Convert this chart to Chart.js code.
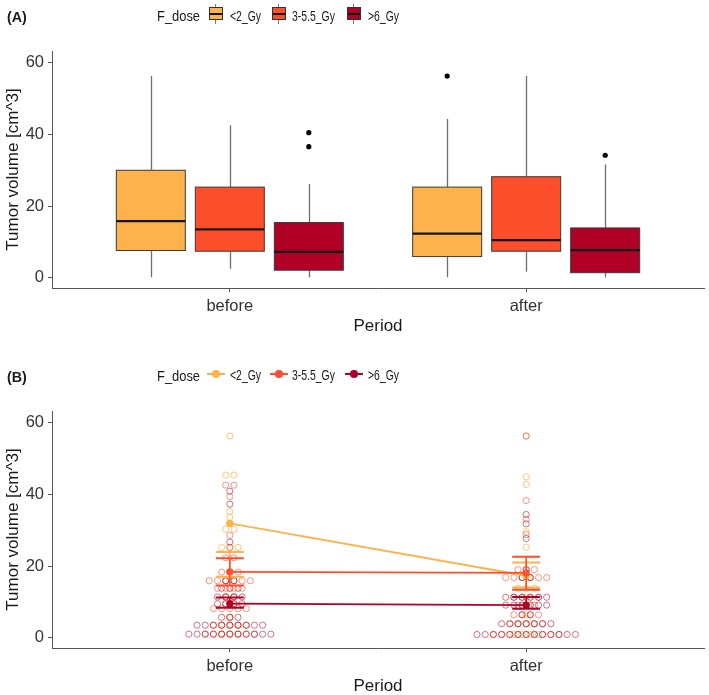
<!DOCTYPE html>
<html><head><meta charset="utf-8">
<script src="https://cdn.jsdelivr.net/npm/chart.js@4.4.1/dist/chart.umd.min.js"></script>
<style>
html,body{margin:0;padding:0;background:#fff;width:709px;height:695px;overflow:hidden;font-family:"Liberation Sans",Arial,sans-serif;}
#wrap{position:relative;width:709px;height:695px;overflow:hidden;}
canvas{position:absolute;left:0;}
.t{position:absolute;white-space:nowrap;color:#1a1a1a;line-height:1;}
.panel{font-weight:bold;font-size:15.5px;transform:scaleX(0.92);transform-origin:0 50%;}
.ltitle{font-size:15px;transform:scaleX(0.86);transform-origin:0 50%;}
.llab{font-size:14.5px;transform:scaleX(0.72);transform-origin:0 50%;}
.k{position:absolute;box-sizing:border-box;}
</style></head>
<body><div id="wrap">
<canvas id="cA" width="709" height="337" style="top:0"></canvas>
<canvas id="cB" width="709" height="337" style="top:360px"></canvas>
</div>
<script>
// ---------- data ----------
const periods = ['before', 'after'];
const doseGroups = ['<2_Gy', '3-5.5_Gy', '>6_Gy'];
const doseColors = ['#FEB24C', '#FC4E2A', '#B10026'];
const dotColors = ['rgba(254,178,76,0.75)', 'rgba(252,78,42,0.6)', 'rgba(177,0,38,0.55)'];
const yTicks = [0, 20, 40, 60];

// Panel A: box statistics per dose group
const wLoBefore  = [0.1, 2.5, 0.1];
const q1Before   = [7.6, 7.4, 2.1];
const medBefore  = [15.8, 13.5, 7.2];
const q3Before   = [30.0, 25.3, 15.4];
const wHiBefore  = [56.3, 42.6, 26.2];
const wLoAfter   = [0.1, 1.7, 0.1];
const q1After    = [5.9, 7.4, 1.4];
const medAfter   = [12.3, 10.5, 7.7];
const q3After    = [25.3, 28.2, 13.9];
const wHiAfter   = [44.3, 56.3, 31.6];
const outBefore  = [[], [], [40.5, 36.6]];
const outAfter   = [[56.3], [], [34.2]];

// Panel B: dot rows (value) and number of dots per dose group
const rowBefore   = [56.3, 45.4, 42.6, 40.9, 39.4, 37.3, 35.3, 33.6, 31.9, 30.3, 28.6, 26.7, 25.2, 22.3, 18.3, 15.9, 13.8, 11.4, 9.5, 8.1, 5.7, 3.5, 1.0];
const cntBeforeLo = [1, 2, 0, 0, 0, 0, 1, 1, 1, 2, 0, 0, 3, 0, 0, 2, 1, 2, 1, 0, 1, 3, 3];
const cntBeforeMd = [0, 0, 2, 0, 1, 0, 0, 0, 0, 0, 1, 0, 1, 2, 3, 6, 4, 2, 2, 5, 1, 5, 7];
const cntBeforeHi = [0, 0, 0, 1, 0, 1, 0, 0, 0, 0, 0, 1, 0, 0, 0, 2, 3, 4, 4, 0, 3, 9, 11];
const rowAfter    = [56.3, 44.9, 42.8, 38.3, 34.4, 33.1, 31.8, 29.6, 28.8, 27.7, 25.3, 19.0, 16.8, 13.8, 11.3, 9.1, 6.4, 3.9, 0.9];
const cntAfterLo  = [1, 1, 1, 0, 0, 0, 0, 1, 0, 0, 1, 0, 2, 3, 1, 2, 1, 3, 4];
const cntAfterMd  = [1, 0, 0, 1, 0, 1, 0, 0, 1, 0, 0, 3, 6, 0, 4, 3, 4, 5, 9];
const cntAfterHi  = [0, 0, 0, 0, 1, 0, 1, 0, 0, 1, 0, 1, 2, 0, 6, 6, 2, 7, 13];

// Panel B: mean points and error bars
const meanBefore = [31.9, 18.4, 9.5];
const meanAfter  = [17.3, 18.1, 9.1];
const errLoBefore = [17.0, 14.6, 8.4];
const errHiBefore = [23.9, 22.2, 11.2];
const errLoAfter  = [14.0, 13.4, 8.1];
const errHiAfter  = [21.0, 22.6, 11.4];

// ---------- layout constants ----------
const FAM = '"Liberation Sans", Arial, sans-serif';
const X_MIN = 0.4, X_MAX = 2.6;
const PX_PER_X = (704 - 52) / (X_MAX - X_MIN);
const DODGE = 79 / PX_PER_X, HALF = 34.5 / PX_PER_X;
const DOT_STEP = 8.2 / PX_PER_X;

function baseOptions() {
  return {
    responsive: false, animation: false, devicePixelRatio: 1,
    layout: { padding: { top: 51, right: 5, bottom: 0, left: 0 } },
    plugins: { legend: { display: false }, tooltip: { enabled: false } },
    scales: {
      x: {
        type: 'linear', min: X_MIN, max: X_MAX,
        afterBuildTicks: s => { s.ticks = periods.map((p, i) => ({ value: i + 1 })); },
        afterFit: s => { s.height = 49; },
        ticks: { callback: v => periods[Math.round(v) - 1] ?? '', color: '#333', font: { family: FAM, size: 16.5 }, padding: 5, autoSkip: false, maxRotation: 0 },
        grid: { display: true, drawOnChartArea: false, drawTicks: true, tickLength: 4, color: '#555', lineWidth: 1 },
        border: { display: true, color: '#555', width: 1 },
        title: { display: true, text: 'Period', color: '#1a1a1a', font: { family: FAM, size: 17 }, padding: { top: 0, bottom: 0 } }
      },
      y: {
        type: 'linear', min: -2.87, max: 63.3,
        afterBuildTicks: s => { s.ticks = yTicks.map(v => ({ value: v })); },
        afterFit: s => { s.width = 52; },
        ticks: { color: '#333', font: { family: FAM, size: 16.5 }, padding: 4 },
        grid: { display: true, drawOnChartArea: false, drawTicks: true, tickLength: 4, color: '#555', lineWidth: 1 },
        border: { display: true, color: '#555', width: 1 },
        title: { display: true, text: 'Tumor volume [cm^3]', color: '#1a1a1a', font: { family: FAM, size: 17 }, padding: { top: 3.5, bottom: 0 } }
      }
    }
  };
}

// ---------- Panel A ----------
const boxStats = [
  [wLoBefore, q1Before, medBefore, q3Before, wHiBefore],
  [wLoAfter, q1After, medAfter, q3After, wHiAfter]
];
const boxPlugin = {
  id: 'boxes',
  beforeDatasetsDraw(chart) {
    const { ctx, scales: { x, y } } = chart;
    ctx.save();
    boxStats.forEach((st, pi) => {
      doseGroups.forEach((g, gi) => {
        const c = pi + 1 + (gi - 1) * DODGE;
        const xc = Math.round(x.getPixelForValue(c)) + 0.5;
        const xl = x.getPixelForValue(c - HALF), xr = x.getPixelForValue(c + HALF);
        const yLo = y.getPixelForValue(st[0][gi]), yQ1 = y.getPixelForValue(st[1][gi]);
        const yMed = y.getPixelForValue(st[2][gi]), yQ3 = y.getPixelForValue(st[3][gi]);
        const yHi = y.getPixelForValue(st[4][gi]);
        ctx.strokeStyle = '#6e6e6e'; ctx.lineWidth = 1.3;
        ctx.beginPath(); ctx.moveTo(xc, yLo); ctx.lineTo(xc, yQ1); ctx.moveTo(xc, yQ3); ctx.lineTo(xc, yHi); ctx.stroke();
        ctx.fillStyle = doseColors[gi];
        ctx.fillRect(xl, yQ3, xr - xl, yQ1 - yQ3);
        ctx.strokeStyle = '#3a3a3a'; ctx.lineWidth = 1;
        ctx.strokeRect(xl, yQ3, xr - xl, yQ1 - yQ3);
        ctx.strokeStyle = '#141414'; ctx.lineWidth = 2.2;
        ctx.beginPath(); ctx.moveTo(xl, yMed); ctx.lineTo(xr, yMed); ctx.stroke();
      });
    });
    ctx.restore();
  }
};
const outlierPts = [];
[outBefore, outAfter].forEach((arr, pi) => arr.forEach((vals, gi) => vals.forEach(v => outlierPts.push({ x: pi + 1 + (gi - 1) * DODGE, y: v }))));
new Chart(document.getElementById('cA'), {
  type: 'scatter',
  data: { datasets: [{ data: outlierPts, pointRadius: 2.6, pointBackgroundColor: '#000', pointBorderWidth: 0 }] },
  options: baseOptions(),
  plugins: [boxPlugin]
});

// ---------- Panel B ----------
const rowSets = [
  [rowBefore, [cntBeforeLo, cntBeforeMd, cntBeforeHi]],
  [rowAfter, [cntAfterLo, cntAfterMd, cntAfterHi]]
];
function dotsFor(gi) {
  const pts = [];
  rowSets.forEach(([rows, cnts], pi) => {
    rows.forEach((v, ri) => {
      const n = cnts[gi][ri];
      for (let k = 0; k < n; k++) pts.push({ x: pi + 1 + (k - (n - 1) / 2) * DOT_STEP, y: v });
    });
  });
  return pts;
}
const datasetsB = [];
doseGroups.forEach((g, gi) => {
  datasetsB.push({
    type: 'line', label: g, order: 3 - gi,
    data: [{ x: 1, y: meanBefore[gi] }, { x: 2, y: meanAfter[gi] }],
    borderColor: doseColors[gi], borderWidth: 1.8, showLine: true,
    pointRadius: 3.6, pointBackgroundColor: doseColors[gi], pointBorderWidth: 0
  });
});
doseGroups.forEach((g, gi) => {
  datasetsB.push({
    type: 'scatter', label: g + ' dots', order: 12 - gi,
    data: dotsFor(gi), pointRadius: 3.1, pointBorderWidth: 1,
    pointBorderColor: dotColors[gi], pointBackgroundColor: 'rgba(0,0,0,0)'
  });
});
const errPlugin = {
  id: 'errbars',
  afterDatasetsDraw(chart) {
    const { ctx, scales: { x, y } } = chart;
    ctx.save();
    [[errLoBefore, errHiBefore], [errLoAfter, errHiAfter]].forEach(([lo, hi], pi) => {
      doseGroups.forEach((g, gi) => {
        const xc = x.getPixelForValue(pi + 1);
        const y1 = y.getPixelForValue(lo[gi]), y2 = y.getPixelForValue(hi[gi]);
        ctx.strokeStyle = doseColors[gi];
        ctx.lineWidth = 1.6;
        ctx.beginPath(); ctx.moveTo(xc, y1); ctx.lineTo(xc, y2); ctx.stroke();
        ctx.lineWidth = 2;
        ctx.beginPath(); ctx.moveTo(xc - 14, y1); ctx.lineTo(xc + 14, y1); ctx.moveTo(xc - 14, y2); ctx.lineTo(xc + 14, y2); ctx.stroke();
      });
    });
    ctx.restore();
  }
};
new Chart(document.getElementById('cB'), {
  type: 'scatter',
  data: { datasets: datasetsB },
  options: baseOptions(),
  plugins: [errPlugin]
});

// ---------- legends & panel labels ----------
const wrap = document.getElementById('wrap');
function addText(txt, left, cy, cls, fs) {
  const d = document.createElement('div');
  d.className = 't ' + cls; d.textContent = txt;
  d.style.left = left + 'px'; d.style.top = (cy - 0.49 * fs) + 'px';
  wrap.appendChild(d);
}
function addBox(left, top, w, h, bg, extra) {
  const d = document.createElement('div');
  d.className = 'k';
  Object.assign(d.style, { left: left + 'px', top: top + 'px', width: w + 'px', height: h + 'px', background: bg }, extra || {});
  wrap.appendChild(d);
}
const keyX = [209, 272, 347], labX = [230, 292, 368];
function legend(cy, boxKey, panel) {
  addText(panel, 7, cy + 0.8, 'panel', 15.5);
  addText('F_dose', 157, cy, 'ltitle', 15);
  doseGroups.forEach((g, i) => {
    if (boxKey) {
      addBox(keyX[i] + 6, cy - 12, 1.3, 20, '#777');
      addBox(keyX[i], cy - 8.5, 13.5, 13, doseColors[i], { border: '1px solid #333' });
      addBox(keyX[i] + 1, cy - 2.5, 11.5, 1.6, '#111');
    } else {
      addBox(keyX[i] - 2, cy - 2.5, 17.5, 2, doseColors[i]);
      addBox(keyX[i] + 3, cy - 5.2, 7.5, 7.5, doseColors[i], { borderRadius: '50%' });
    }
    addText(g, labX[i], cy, 'llab', 14.5);
  });
}
legend(15.7, true, '(A)');
legend(375.5, false, '(B)');
</script>
</body></html>
